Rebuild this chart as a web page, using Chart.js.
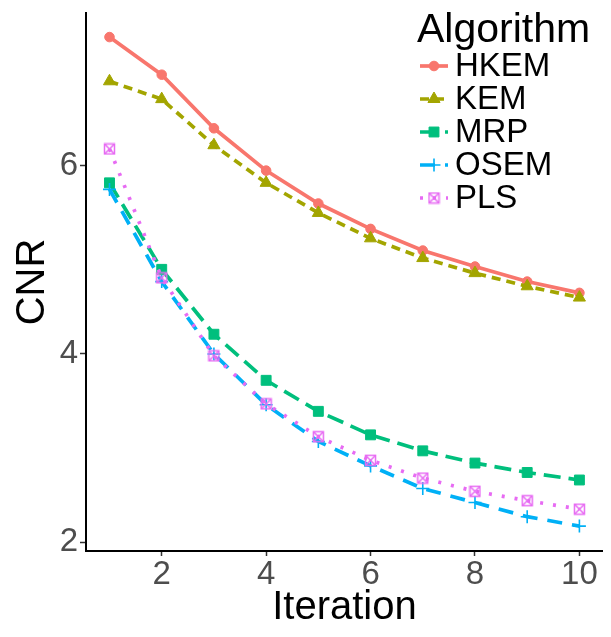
<!DOCTYPE html>
<html>
<head>
<meta charset="utf-8">
<script src="https://cdn.jsdelivr.net/npm/chart.js@4.4.1/dist/chart.umd.min.js"></script>
<style>
  html, body { margin: 0; padding: 0; background: #ffffff; }
  #wrap { width: 611px; height: 637px; }
</style>
</head>
<body>
<div id="wrap"><canvas id="c" width="611" height="637"></canvas></div>
<script>
// ---- data ----
const iterations = [1, 2, 3, 4, 5, 6, 7, 8, 9, 10];
const algorithms = ["HKEM", "KEM", "MRP", "OSEM", "PLS"];
const hkem = [7.37, 6.97, 6.40, 5.95, 5.60, 5.33, 5.10, 4.93, 4.77, 4.65];
const kem  = [6.90, 6.71, 6.22, 5.82, 5.50, 5.23, 5.02, 4.86, 4.72, 4.60];
const mrp  = [5.82, 4.90, 4.21, 3.72, 3.39, 3.14, 2.97, 2.84, 2.74, 2.66];
const osem = [5.75, 4.77, 4.00, 3.46, 3.07, 2.81, 2.57, 2.42, 2.27, 2.17];
const pls  = [6.18, 4.81, 3.98, 3.47, 3.12, 2.87, 2.68, 2.54, 2.44, 2.35];
const xTicks = [2, 4, 6, 8, 10];
const yTicks = [2, 4, 6];
const xTitle = "Iteration";
const yTitle = "CNR";
const legendTitle = "Algorithm";

const FONT = '"Liberation Sans", Arial, Helvetica, sans-serif';

function boxCross(color) {
  const c = document.createElement('canvas');
  c.width = 13; c.height = 13;
  const g = c.getContext('2d');
  g.strokeStyle = color; g.lineWidth = 1.5;
  g.strokeRect(1.5, 1.5, 10, 10);
  g.beginPath();
  g.moveTo(1.5, 1.5); g.lineTo(11.5, 11.5);
  g.moveTo(11.5, 1.5); g.lineTo(1.5, 11.5);
  g.stroke();
  return c;
}

const seriesValues = [hkem, kem, mrp, osem, pls];
const styles = [
  { color: '#F8766D', dash: [],       point: 'circle',   r: 4.8, bw: 1 },
  { color: '#A3A500', dash: [9, 6],   point: 'triangle', r: 7,   bw: 1 },
  { color: '#00BF7D', dash: [17, 8],  point: 'rect',     r: 7,   bw: 1 },
  { color: '#00B0F6', dash: [15, 10], point: 'cross',    r: 6.5, bw: 1.6 },
  { color: '#E76BF3', dash: [3, 10],  point: null,       r: 6.5, bw: 1 }
];

const datasets = algorithms.map((name, i) => {
  const st = styles[i];
  return {
    label: name,
    data: iterations.map((x, j) => ({ x: x, y: seriesValues[i][j] })),
    borderColor: st.color,
    backgroundColor: st.color,
    borderWidth: 3.7,
    borderDash: st.dash,
    borderCapStyle: 'butt',
    tension: 0,
    fill: false,
    pointStyle: st.point || boxCross(st.color),
    pointRadius: st.r,
    pointBorderWidth: st.bw,
    pointBackgroundColor: st.color,
    pointBorderColor: st.color,
    order: algorithms.length - i
  };
});

function drawMarker(ctx, style, r, x, y) {
  if (Chart.helpers && Chart.helpers.drawPoint) {
    Chart.helpers.drawPoint(ctx, { pointStyle: style, radius: r, rotation: 0, borderWidth: ctx.lineWidth }, x, y);
    return;
  }
  if (style instanceof HTMLCanvasElement) { ctx.drawImage(style, x - style.width / 2, y - style.height / 2); return; }
  ctx.beginPath();
  if (style === 'circle') { ctx.arc(x, y, r, 0, Math.PI * 2); ctx.fill(); }
  else if (style === 'rect') { const s = r * Math.SQRT1_2; ctx.fillRect(x - s, y - s, 2 * s, 2 * s); }
  else if (style === 'triangle') {
    ctx.moveTo(x, y - r); ctx.lineTo(x + r * 0.866, y + r / 2); ctx.lineTo(x - r * 0.866, y + r / 2); ctx.closePath(); ctx.fill();
  } else if (style === 'cross') {
    ctx.moveTo(x - r, y); ctx.lineTo(x + r, y); ctx.moveTo(x, y - r); ctx.lineTo(x, y + r); ctx.stroke();
  }
}

const ggLegend = {
  id: 'ggLegend',
  afterDraw(chart) {
    const ctx = chart.ctx;
    ctx.save();
    ctx.fillStyle = '#000000';
    ctx.textAlign = 'left';
    ctx.textBaseline = 'alphabetic';
    ctx.font = '41px ' + FONT;
    ctx.fillText(legendTitle, 417, 41.5);
    chart.data.datasets.forEach((ds, i) => {
      const y = 66 + i * 33;
      ctx.strokeStyle = ds.borderColor;
      ctx.lineWidth = ds.borderWidth;
      ctx.lineCap = 'butt';
      ctx.setLineDash(ds.borderDash || []);
      ctx.beginPath();
      ctx.moveTo(420, y); ctx.lineTo(448, y);
      ctx.stroke();
      ctx.setLineDash([]);
      ctx.fillStyle = ds.pointBackgroundColor;
      ctx.strokeStyle = ds.pointBorderColor;
      ctx.lineWidth = ds.pointBorderWidth;
      drawMarker(ctx, ds.pointStyle, ds.pointRadius, 434, y);
      ctx.fillStyle = '#000000';
      ctx.font = '33px ' + FONT;
      ctx.textBaseline = 'middle';
      ctx.fillText(ds.label, 455, y + 1);
      ctx.textBaseline = 'alphabetic';
    });
    ctx.restore();
  }
};

new Chart(document.getElementById('c'), {
  type: 'line',
  data: { datasets: datasets },
  plugins: [ggLegend],
  options: {
    responsive: false,
    animation: false,
    events: [],
    layout: { padding: { top: 13, right: 8, left: 0, bottom: 0 } },
    plugins: { legend: { display: false }, tooltip: { enabled: false } },
    scales: {
      x: {
        type: 'linear',
        min: 0.55, max: 10.45,
        afterBuildTicks: s => { s.ticks = xTicks.map(v => ({ value: v })); },
        afterFit: s => { s.height = 86; s.paddingLeft = 0; s.paddingRight = 0; s.paddingTop = 0; s.paddingBottom = 0; },
        grid: { drawOnChartArea: false, drawTicks: true, tickLength: 5, tickWidth: 1.5, tickColor: '#333333' },
        border: { display: true, color: '#000000', width: 2 },
        ticks: { font: { family: FONT, size: 33, lineHeight: 1.1 }, color: '#4D4D4D', padding: 1, maxRotation: 0, autoSkip: false },
        title: { display: true, text: xTitle, color: '#000000', font: { family: FONT, size: 40 }, padding: { top: 0, bottom: 5 } }
      },
      y: {
        type: 'linear',
        min: 1.905, max: 7.626,
        afterBuildTicks: s => { s.ticks = yTicks.map(v => ({ value: v })); },
        afterFit: s => { s.width = 86; s.paddingLeft = 0; s.paddingRight = 0; s.paddingTop = 0; s.paddingBottom = 0; },
        grid: { drawOnChartArea: false, drawTicks: true, tickLength: 6, tickWidth: 1.5, tickColor: '#333333' },
        border: { display: true, color: '#000000', width: 2 },
        ticks: { font: { family: FONT, size: 33 }, color: '#4D4D4D', padding: 2, autoSkip: false },
        title: { display: true, text: yTitle, color: '#000000', font: { family: FONT, size: 40 }, padding: { top: 9, bottom: 0 } }
      }
    }
  }
});
</script>
</body>
</html>
